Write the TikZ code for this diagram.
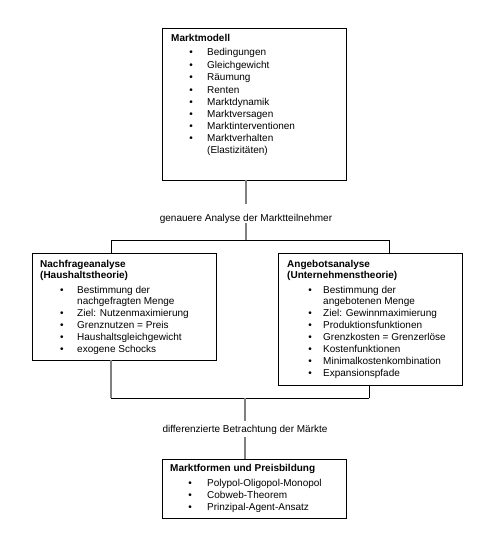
\documentclass[tikz,border=0pt]{standalone}
\usepackage{fontspec}
\setmainfont{Liberation Sans}
\begin{document}
\begin{tikzpicture}[x=1pt,y=-1pt,
  box/.style={draw=black,line width=0.9pt,anchor=north west,inner sep=0pt},
  txt/.style={anchor=mid west,inner sep=0pt,font=\fontsize{10}{12}\selectfont},
  ttl/.style={txt,font=\fontsize{10}{12}\selectfont\bfseries},
  bul/.style={anchor=mid,inner sep=0pt,font=\fontsize{10}{12}\selectfont},
  lab/.style={anchor=mid,inner sep=0pt,font=\fontsize{10}{12}\selectfont},
  conn/.style={draw={rgb,1:red,0.5;green,0.5;blue,0.5},line width=1.8pt},
  hline/.style={draw=black,line width=1pt}]
\useasboundingbox (0,0) rectangle (496,550);

% boxes
\node[box,minimum width=184pt,minimum height=152pt] (top) at (162,28) {};
\node[box,minimum width=184pt,minimum height=107pt] (left) at (32,253) {};
\node[box,minimum width=184pt,minimum height=132pt] (right) at (278,253) {};
\node[box,minimum width=184pt,minimum height=59pt] (bottom) at (162,459) {};

% top box text
\node[ttl] (t0) at (171,39) {Marktmodell};
\foreach \i/\y/\s in {1/53/Bedingungen,2/66/Gleichgewicht,3/78/Räumung,4/90.5/Renten,5/102.5/Marktdynamik,6/115/Marktversagen,7/127/Marktinterventionen,8/139/Marktverhalten}{
  \node[bul] (tb\i) at (191,\y) {•};
  \node[txt] (tt\i) at (207,\y) {\s};
}
\node[txt] (tt9) at (207,151) {(Elastizitäten)};

% left box text
\node[ttl] (l0) at (40,265) {Nachfrageanalyse};
\node[ttl] (l0b) at (40,276) {(Haushaltstheorie)};
\node[bul] (lb1) at (62,291) {•};
\node[txt] (lt1) at (77,291) {Bestimmung der};
\node[txt] (lt1b) at (77,302) {nachgefragten Menge};
\foreach \i/\y/\s in {2/313.5/{Ziel: Nutzenmaximierung},3/326/{Grenznutzen = Preis},4/338/{Haushaltsgleichgewicht},5/350/{exogene Schocks}}{
  \node[bul] (lb\i) at (62,\y) {•};
  \node[txt] (lt\i) at (77,\y) {\s};
}

% right box text
\node[ttl] (r0) at (287,265) {Angebotsanalyse};
\node[ttl] (r0b) at (287,276) {(Unternehmenstheorie)};
\node[bul] (rb1) at (310,291) {•};
\node[txt] (rt1) at (323,291) {Bestimmung der};
\node[txt] (rt1b) at (323,302) {angebotenen Menge};
\foreach \i/\y/\s in {2/313.5/{Ziel: Gewinnmaximierung},3/326/{Produktionsfunktionen},4/338/{Grenzkosten = Grenzerlöse},5/350/{Kostenfunktionen},6/362/{Minimalkostenkombination},7/374/{Expansionspfade}}{
  \node[bul] (rb\i) at (310,\y) {•};
  \node[txt] (rt\i) at (323,\y) {\s};
}

% bottom box text
\node[ttl] (b0) at (170,469) {Marktformen und Preisbildung};
\foreach \i/\y/\s in {1/484/Polypol-Oligopol-Monopol,2/496/Cobweb-Theorem,3/508/Prinzipal-Agent-Ansatz}{
  \node[bul] (bb\i) at (190,\y) {•};
  \node[txt] (bt\i) at (207,\y) {\s};
}

% labels
\node[lab] (la1) at (246,219) {genauere Analyse der Marktteilnehmer};
\node[lab] (la2) at (245,430) {differenzierte Betrachtung der Märkte};

% connector coordinates
\coordinate (c1) at (246,180);
\coordinate (c2) at (246,204);
\coordinate (c3) at (246,223);
\coordinate (c4) at (246,240);
\coordinate (hl) at (111,240);
\coordinate (hr) at (389,240);
\coordinate (hlb) at (111,253);
\coordinate (hrb) at (389,253);
\coordinate (d1) at (111,360);
\coordinate (d2) at (111,398);
\coordinate (d3) at (369,385);
\coordinate (d4) at (369,398);
\coordinate (e1) at (245,398);
\coordinate (e2) at (245,421);
\coordinate (e3) at (245,437);
\coordinate (e4) at (245,459);

\draw[conn] (c1) -- (c2);
\draw[conn] (c3) -- (c4);
\draw[hline] (hl) -- (hr);
\draw[hline] (hl) -- (hlb);
\draw[hline] (hr) -- (hrb);
\draw[conn] (d1) -- (d2);
\draw[hline] (d3) -- (d4);
\draw[hline] (d2) -- (d4);
\draw[conn] (e1) -- (e2);
\draw[conn] (e3) -- (e4);
\end{tikzpicture}
\end{document}
